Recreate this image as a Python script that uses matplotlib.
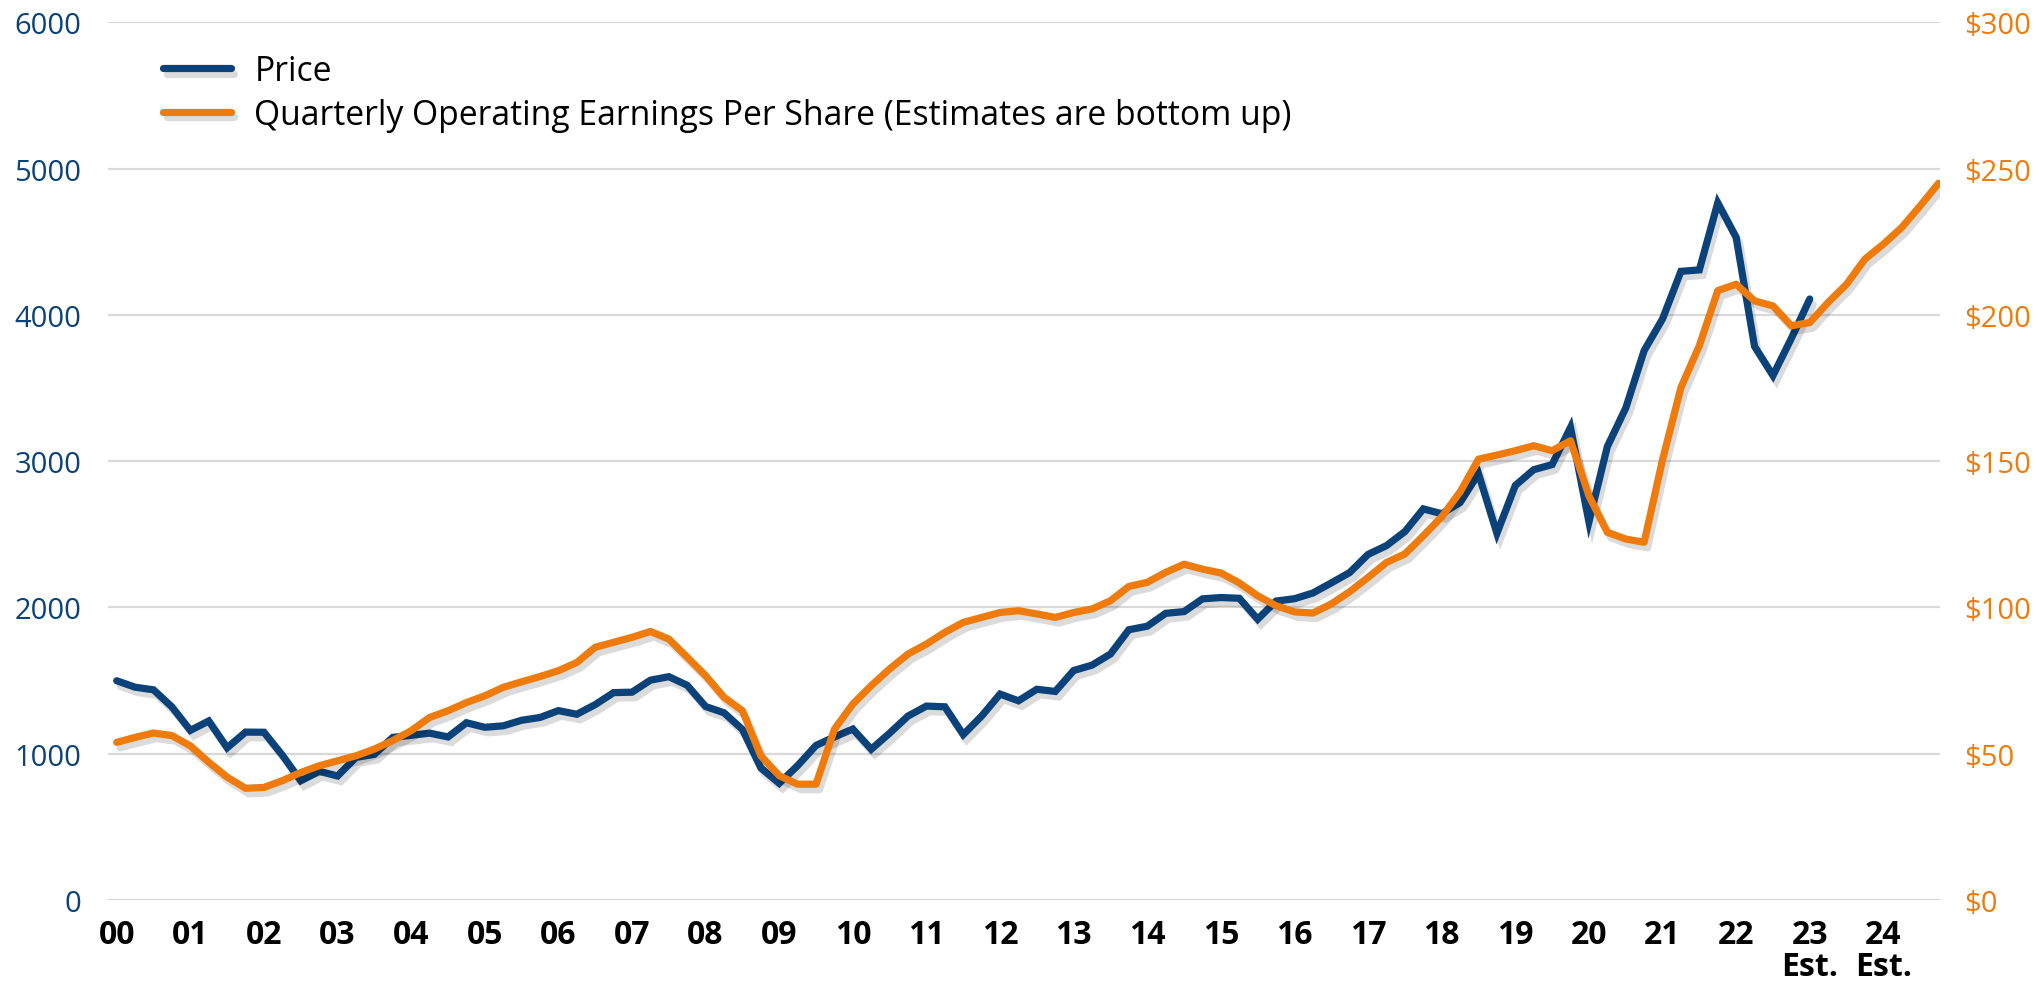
import matplotlib
matplotlib.use("Agg")
import matplotlib.pyplot as plt
import matplotlib.patheffects as pe
import numpy as np

# quarterly, 2000 Q1 onwards
price = [1499, 1455, 1437, 1320, 1160, 1224, 1041, 1148,
         1147, 990, 815, 880, 848, 975, 996, 1112,
         1126, 1141, 1115, 1212, 1181, 1191, 1229, 1248,
         1295, 1270, 1336, 1418, 1421, 1503, 1527, 1468,
         1323, 1280, 1166, 903, 798, 919, 1057, 1115,
         1169, 1031, 1141, 1258, 1326, 1321, 1131, 1258,
         1408, 1362, 1441, 1426, 1569, 1606, 1682, 1848,
         1872, 1960, 1972, 2059, 2068, 2063, 1920, 2044,
         2060, 2099, 2168, 2239, 2363, 2423, 2519, 2674,
         2641, 2718, 2914, 2507, 2834, 2942, 2977, 3231,
         2585, 3100, 3363, 3756, 3973, 4298, 4308, 4766,
         4530, 3785, 3586, 3840, 4109]

eps = [53.9, 55.6, 57.1, 56.2, 52.7, 47.1, 42.0, 38.2,
       38.5, 40.8, 43.6, 45.9, 47.6, 49.3, 51.6, 54.5,
       57.9, 62.4, 64.7, 67.5, 69.8, 72.7, 74.6, 76.4,
       78.4, 81.2, 86.4, 88.1, 89.8, 91.8, 89.2, 83.0,
       76.7, 69.3, 64.7, 49.3, 42.5, 39.6, 39.6, 58.4,
       67.0, 73.3, 79.0, 84.1, 87.5, 91.5, 94.9, 96.6,
       98.3, 98.9, 97.8, 96.6, 98.3, 99.5, 102.3, 107.2,
       108.6, 112.0, 114.8, 113.1, 111.8, 108.4, 104.0, 100.6,
       98.5, 98.1, 101.2, 105.4, 110.3, 115.4, 118.3, 124.5,
       131.0, 139.5, 150.7, 152.1, 153.6, 155.3, 153.6, 157.0,
       138.2, 125.7, 123.4, 122.3, 150.5, 175.2, 189.5, 208.3,
       210.5, 204.8, 203.1, 196.3, 197.4, 204.3, 210.5, 219.1,
       224.2, 229.9, 237.3, 245.0]

year_labels = ['00', '01', '02', '03', '04', '05', '06', '07', '08', '09',
               '10', '11', '12', '13', '14', '15', '16', '17', '18', '19',
               '20', '21', '22', '23\nEst.', '24\nEst.']
price_ticks = [0, 1000, 2000, 3000, 4000, 5000, 6000]
eps_ticks = [0, 50, 100, 150, 200, 250, 300]

NAVY = '#0B4279'
ORANGE = '#EE7B0C'
GRID = '#D9D9D9'

plt.rcParams['font.family'] = ['Open Sans', 'DejaVu Sans']

fig = plt.figure(figsize=(20.4, 9.87), dpi=100)
ax = fig.add_axes([0.0529, 0.0871, 0.951 - 0.0529, 0.9763 - 0.0871])
ax2 = ax.twinx()

shadow = [pe.SimpleLineShadow(offset=(2.5, -4), shadow_color='black', alpha=0.14),
          pe.Normal()]

xp = np.arange(len(price)) / 4
xe = np.arange(len(eps)) / 4

l1, = ax.plot(xp, price, color=NAVY, lw=5.2, solid_joinstyle='miter',
              solid_capstyle='round', path_effects=shadow, label='Price')
l2, = ax2.plot(xe, eps, color=ORANGE, lw=5.2, solid_capstyle='round',
               path_effects=shadow,
               label='Quarterly Operating Earnings Per Share (Estimates are bottom up)')

ax.set_ylim(0, 6000)
ax2.set_ylim(0, 300)
ax.set_xlim(-0.12, 24.77)

ax.set_yticks(price_ticks)
ax.set_yticklabels([str(v) for v in price_ticks])
ax2.set_yticks(eps_ticks)
ax2.set_yticklabels(['$' + str(v) for v in eps_ticks])
ax.set_xticks(range(len(year_labels)))
ax.set_xticklabels(year_labels, fontweight='bold', linespacing=0.95, va='top')

ax.grid(axis='y', color=GRID, lw=1.6)
ax.set_axisbelow(True)
for a in (ax, ax2):
    for s in a.spines.values():
        s.set_visible(False)

ax.tick_params(axis='y', length=0, pad=19, labelsize=21, labelcolor=NAVY)
ax2.tick_params(axis='y', length=0, pad=17, labelsize=21, labelcolor=ORANGE)
ax.tick_params(axis='x', length=0, pad=13, labelsize=23, labelcolor='black')

leg = ax2.legend(handles=[l1, l2], loc='upper left', bbox_to_anchor=(0.080, 0.944),
                 bbox_transform=fig.transFigure, frameon=False, fontsize=24.3,
                 handlelength=2.0, handletextpad=0.7, labelspacing=0.28,
                 borderpad=0, borderaxespad=0)

fig.savefig('out.png', dpi=100, facecolor='white')
